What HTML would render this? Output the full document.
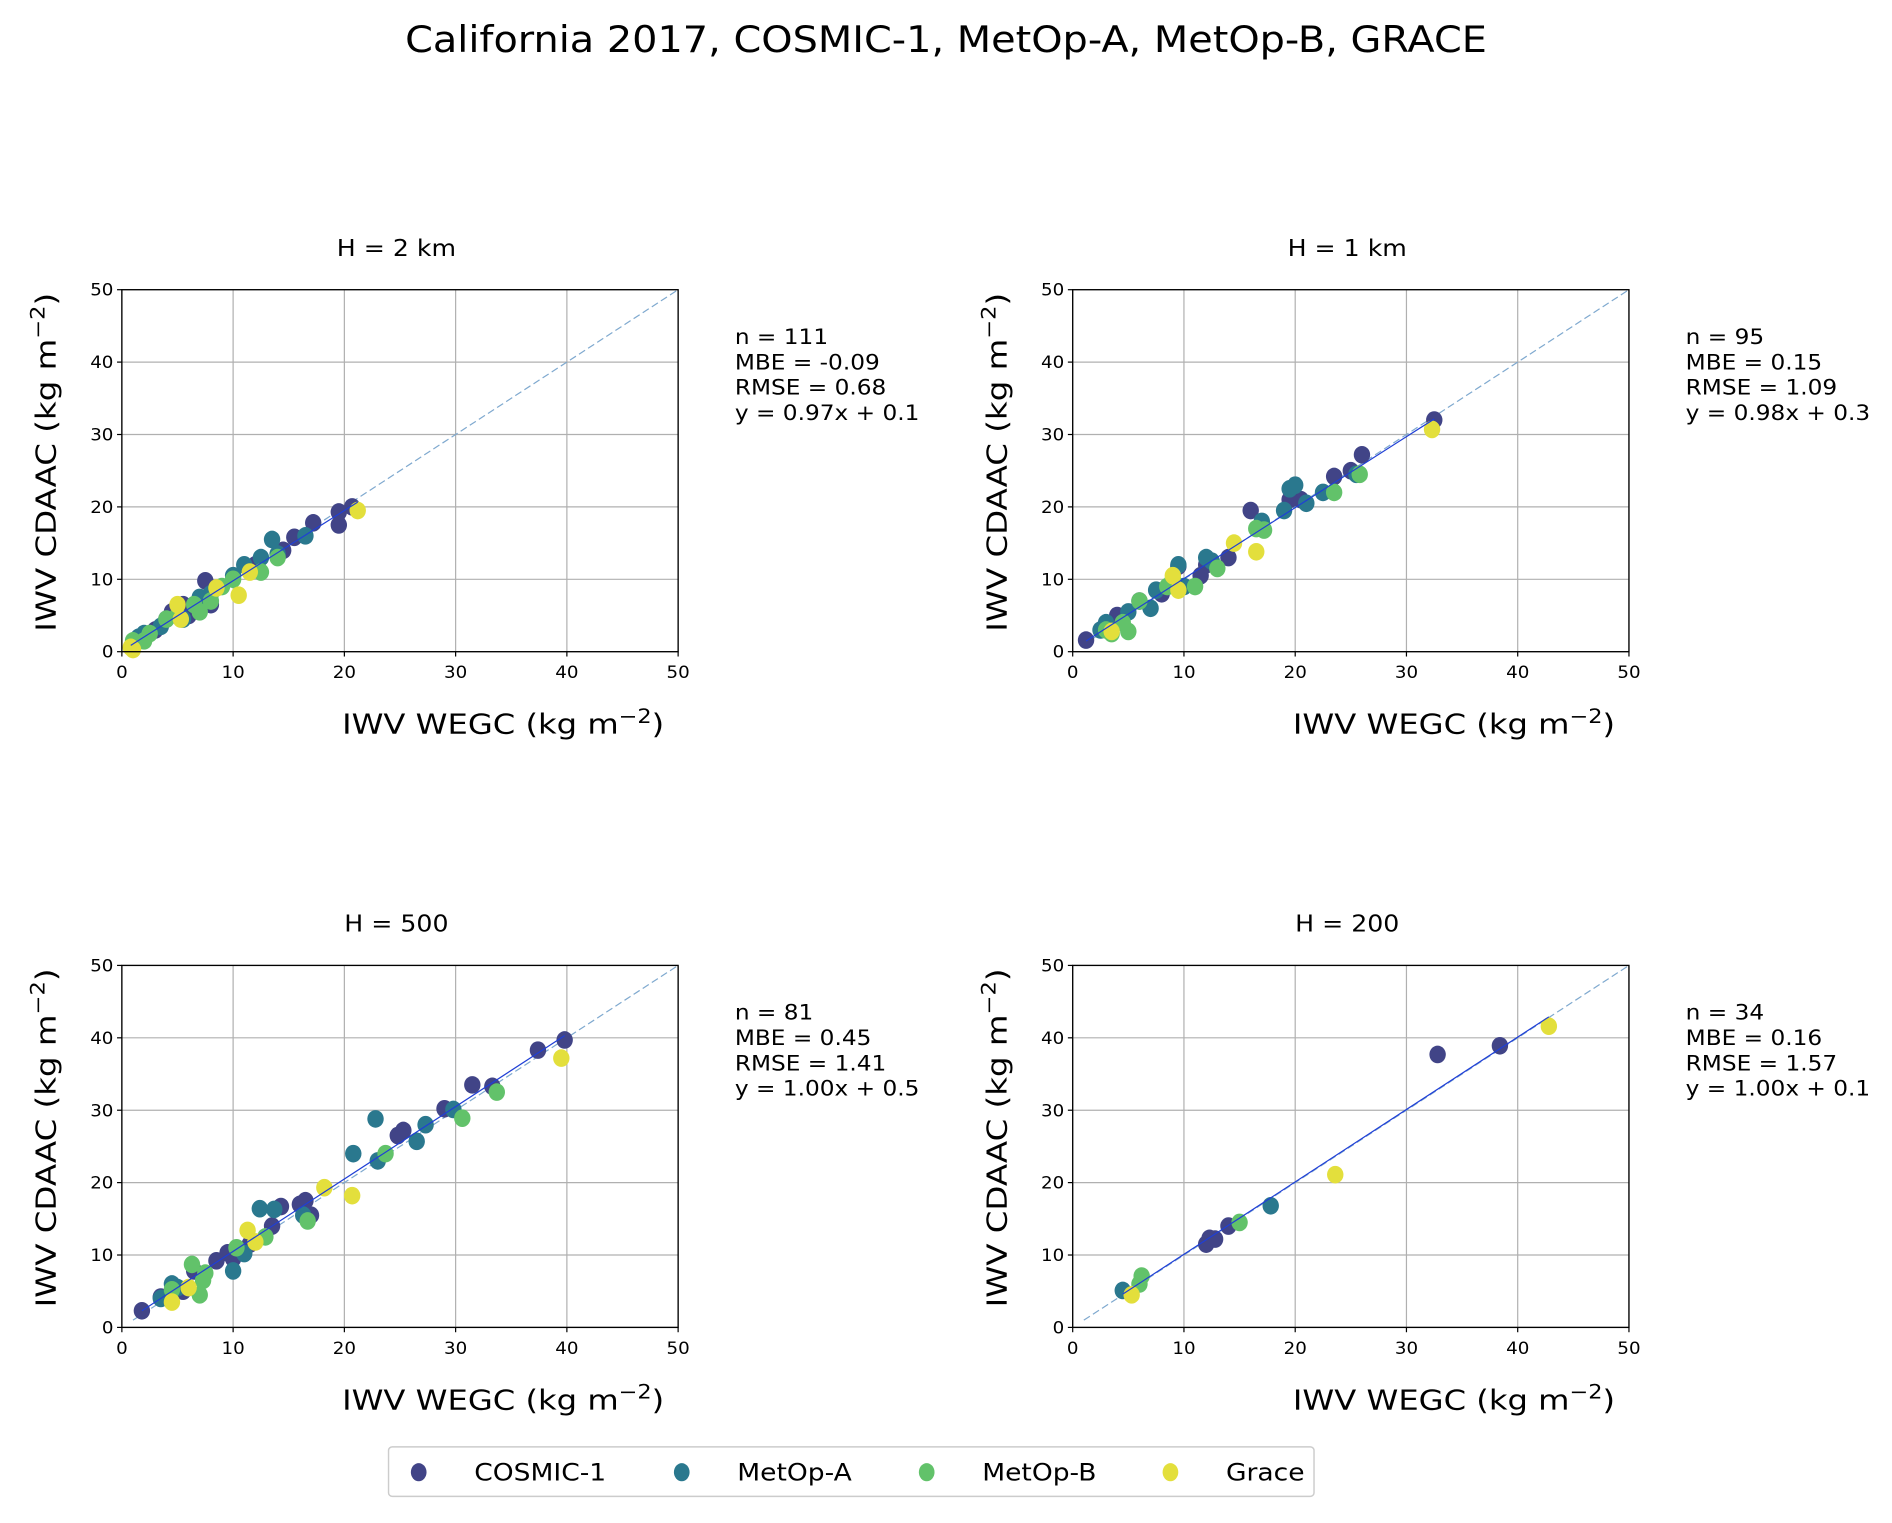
<!DOCTYPE html>
<html><head><meta charset="utf-8">
<style>
html,body{margin:0;padding:0;background:#fff;}
svg{display:block;font-family:"DejaVu Sans","Liberation Sans",sans-serif;}
</style></head>
<body>
<svg id="fig" width="1892" height="1523" viewBox="0 0 1568 1262" xmlns="http://www.w3.org/2000/svg">
<rect width="1568" height="1262" fill="#fff"/>
<text transform="translate(784,43) scale(1.1,1)" font-size="30" text-anchor="middle">California 2017, COSMIC-1, MetOp-A, MetOp-B, GRACE</text>
<g id="panels"></g>
<g>
<rect x="322" y="1199" width="767" height="41" rx="3" fill="#fff" stroke="#ccc" stroke-width="1.2"/>
<ellipse cx="347" cy="1220" rx="6.5" ry="7.5" fill="#414487"/>
<text transform="translate(393,1227) scale(1.1,1)" font-size="20">COSMIC-1</text>
<ellipse cx="565" cy="1220" rx="6.5" ry="7.5" fill="#2a788e"/>
<text transform="translate(611,1227) scale(1.1,1)" font-size="20">MetOp-A</text>
<ellipse cx="768" cy="1220" rx="6.5" ry="7.5" fill="#62c26a"/>
<text transform="translate(814,1227) scale(1.1,1)" font-size="20">MetOp-B</text>
<ellipse cx="970" cy="1220" rx="6.5" ry="7.5" fill="#e3df3c"/>
<text transform="translate(1016,1227) scale(1.1,1)" font-size="20">Grace</text>
</g>
</svg>
<script>
const seriesNames = ["COSMIC-1","MetOp-A","MetOp-B","Grace"];
const seriesColors = ["#414487","#2a788e","#62c26a","#e3df3c"];
const ticks = [0,10,20,30,40,50];
const panelTitles = ["H = 2 km","H = 1 km","H = 500","H = 200"];
const statsN = [111,95,81,34];
const statsMBE = ["-0.09","0.15","0.45","0.16"];
const statsRMSE = ["0.68","1.09","1.41","1.57"];
const fitSlope = [0.97,0.98,1.00,1.00];
const fitIntercept = [0.1,0.3,0.5,0.1];

const p1Cosmic = [[1,1],[1.5,1.5],[3,3],[4,4.5],[4.5,5.5],[5.5,6.5],[6,5],[7.5,9.8],[8,6.5],[11.5,11.5],[12,12],[14.5,14],[15.5,15.8],[17.2,17.8],[19.5,17.5],[19.5,19.3],[20.7,20]];
const p1MetopA = [[1.5,2],[2,2.5],[3.5,3.5],[5.5,4.5],[6.5,6.5],[7,7.5],[8,8],[10,10.5],[11,12],[12.5,13],[13.5,15.5],[14,13.5],[16.5,16]];
const p1MetopB = [[1,1.5],[2,1.5],[2.5,2.5],[4,4.5],[5,5],[6.5,6.5],[7,5.5],[8,7],[9,9],[10,10],[12.5,11],[14,13]];
const p1Grace = [[0.8,0.6],[1,0.3],[5,6.5],[5.3,4.5],[8.5,8.8],[10.5,7.8],[11.5,11],[21.2,19.5]];

const p2Cosmic = [[1.2,1.6],[4,5],[6,7],[8,8],[9.5,11.8],[11.5,10.5],[12,12],[14,13],[16,19.5],[19.5,21],[20.5,21],[23.5,24.2],[25,25],[26,27.2],[32.5,32]];
const p2MetopA = [[2.5,3],[3,4],[5,5.5],[7,6],[7.5,8.5],[9.5,12],[10,9],[12,13],[12.5,12.5],[17,18],[19,19.5],[19.5,22.5],[20,23],[21,20.5],[22.5,22],[25.5,24.5]];
const p2MetopB = [[3,3],[3.5,2.5],[4.5,4],[5,2.8],[6,7],[8.5,9],[9,10],[11,9],[13,11.5],[16.5,17],[17.2,16.8],[23.5,22],[25.8,24.5]];
const p2Grace = [[3.5,2.8],[9,10.5],[9.5,8.5],[14.5,15],[16.5,13.8],[32.3,30.7]];

const p3Cosmic = [[1.8,2.3],[3.5,4.2],[5.5,5],[6.5,7.8],[8.5,9.2],[9.5,10.3],[10,9.5],[11.5,11.5],[13.5,14],[14.3,16.7],[16,17],[16.5,17.5],[17,15.5],[24.8,26.5],[25.3,27.2],[29,30.2],[31.5,33.5],[33.3,33.3],[37.4,38.3],[39.8,39.7]];
const p3MetopA = [[3.5,4],[4.5,6],[5,5.5],[10,7.8],[11,10.2],[12.4,16.4],[13.7,16.3],[16.3,15.5],[20.8,24],[22.8,28.8],[23,23],[26.5,25.7],[27.3,28],[29.8,30.1]];
const p3MetopB = [[4.5,5.2],[6.3,8.7],[7,4.5],[7.3,6.5],[7.5,7.5],[10.3,11],[12.9,12.5],[16.7,14.7],[23.7,24],[30.6,28.9],[33.7,32.5]];
const p3Grace = [[4.5,3.5],[6,5.5],[11.3,13.4],[12,11.8],[18.2,19.3],[20.7,18.2],[39.5,37.2]];

const p4Cosmic = [[12,11.5],[12.3,12.3],[12.8,12.2],[14,14],[32.8,37.7],[38.4,38.9]];
const p4MetopA = [[4.5,5.1],[17.8,16.8]];
const p4MetopB = [[6,6],[6.2,7.1],[15,14.5]];
const p4Grace = [[5.3,4.5],[23.6,21.1],[42.8,41.6]];

const panelData = [
  [p1Cosmic,p1MetopA,p1MetopB,p1Grace],
  [p2Cosmic,p2MetopA,p2MetopB,p2Grace],
  [p3Cosmic,p3MetopA,p3MetopB,p3Grace],
  [p4Cosmic,p4MetopA,p4MetopB,p4Grace]
];

const NS = "http://www.w3.org/2000/svg";
const root = document.getElementById("panels");
function mk(tag, attrs, parent){
  const e = document.createElementNS(NS, tag);
  for (const k in attrs) e.setAttribute(k, attrs[k]);
  parent.appendChild(e);
  return e;
}
function txt(x, y, sx, attrs, parent){
  attrs.transform = `translate(${x},${y}) scale(${sx},1)`;
  return mk("text", attrs, parent);
}
const origins = [[101,240],[889,240],[101,800],[889,800]];
const W = 461, H = 300;

panelData.forEach((series, pi) => {
  const [ox, oy] = origins[pi];
  const xs = v => ox + v / 50 * W;
  const ys = v => oy + H - v / 50 * H;
  const g = mk("g", {}, root);
  
  

  const t = txt(ox + W/2 - 3, oy - 28, 1.1, {"font-size": 19, "text-anchor": "middle"}, g);
  t.textContent = panelTitles[pi];
  
  

  ticks.forEach(v => {
    const gl1 = mk("line", {x1: xs(v), x2: xs(v), y1: oy, y2: oy + H, stroke: "#b0b0b0", "stroke-width": 1}, g);
    
    
    const gl2 = mk("line", {x1: ox, x2: ox + W, y1: ys(v), y2: ys(v), stroke: "#b0b0b0", "stroke-width": 1}, g);
    
    
    mk("line", {x1: xs(v), x2: xs(v), y1: oy + H, y2: oy + H + 4, stroke: "#000", "stroke-width": 1}, g);
    mk("line", {x1: ox - 4, x2: ox, y1: ys(v), y2: ys(v), stroke: "#000", "stroke-width": 1}, g);
    const xl = txt(xs(v), oy + H + 22, 1.08, {"font-size": 14, "text-anchor": "middle"}, g);
    xl.textContent = v;
    
    
    const yl = txt(ox - 7, ys(v) + 5, 1.08, {"font-size": 14, "text-anchor": "end"}, g);
    yl.textContent = v;
    
    
  });

  const one = mk("line", {x1: xs(1), y1: ys(1), x2: xs(50), y2: ys(50), stroke: "#7fa9cf", "stroke-width": 1, "stroke-dasharray": "6,3"}, g);
  
  

  let minX = Infinity, maxX = -Infinity;
  series.forEach((pts, si) => {
    pts.forEach(p => {
      minX = Math.min(minX, p[0]); maxX = Math.max(maxX, p[0]);
      const c = mk("ellipse", {cx: xs(p[0]), cy: ys(p[1]), rx: 6.8, ry: 7.3, fill: seriesColors[si]}, g);
      
      
    });
  });

  const a = fitSlope[pi], b = fitIntercept[pi];
  const fl = mk("line", {x1: xs(minX), y1: ys(a*minX + b), x2: xs(maxX), y2: ys(a*maxX + b), stroke: "#1f3fd6", "stroke-width": 1}, g);
  
  

  const fr = mk("rect", {x: ox, y: oy, width: W, height: H, fill: "none", stroke: "#000", "stroke-width": 1.1}, g);
  
  

  const xlab = txt(ox + 316, oy + H + 68, 1.16, {"font-size": 23, "text-anchor": "middle"}, g);
  xlab.innerHTML = 'IWV WEGC (kg m<tspan dy="-9" font-size="16">−2</tspan><tspan dy="9">)</tspan>';
  
  
  const ylab = mk("text", {x: 0, y: 0, "font-size": 23, "text-anchor": "middle", transform: `translate(${ox - 55},${oy + 143}) rotate(-90) scale(1.17,1)`}, g);
  ylab.innerHTML = 'IWV CDAAC (kg m<tspan dy="-9" font-size="16">−2</tspan><tspan dy="9">)</tspan>';
  
  

  const lines = ["n = " + statsN[pi], "MBE = " + statsMBE[pi], "RMSE = " + statsRMSE[pi], "y = " + a.toFixed(2) + "x + " + b];
  lines.forEach((s, li) => {
    const st = txt(ox + 508, oy + 45 + li * 21, 1.1, {"font-size": 17.5}, g);
    st.textContent = s;
    
    
  });
});
</script>
</body></html>
